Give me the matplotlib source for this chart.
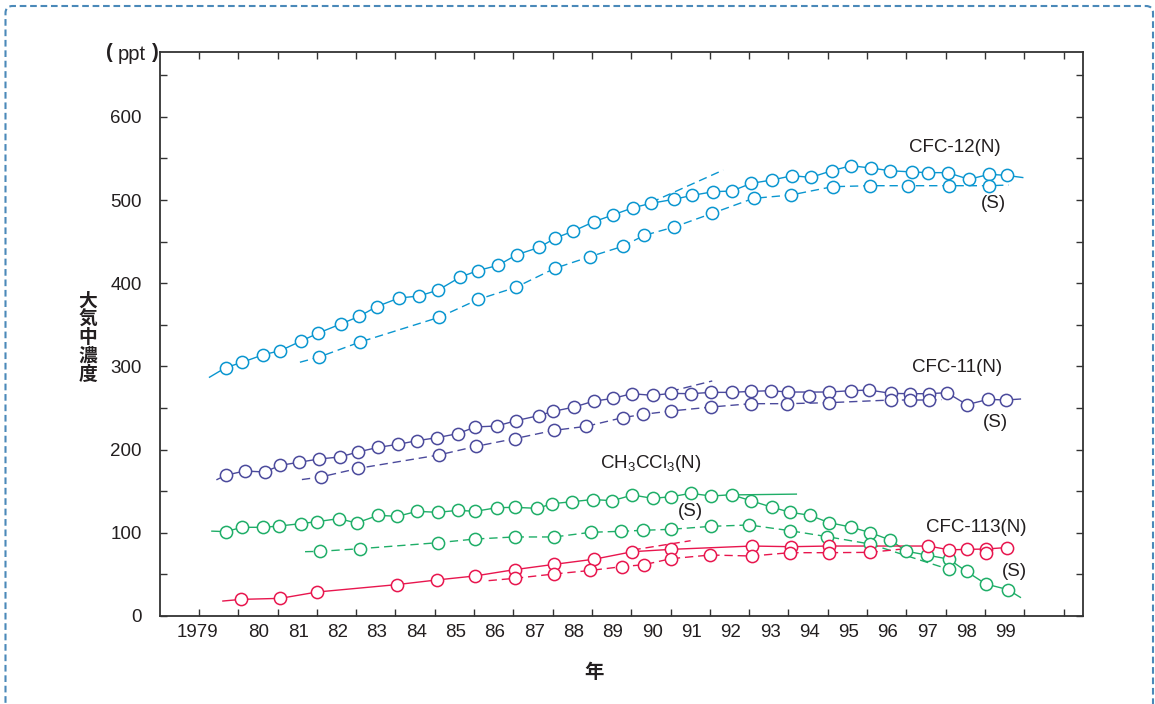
import matplotlib
matplotlib.use("Agg")
import matplotlib.pyplot as plt
from matplotlib.patches import FancyBboxPatch
from matplotlib.transforms import IdentityTransform
from matplotlib.ticker import FixedLocator, NullFormatter

plt.rcParams['font.family'] = ['Liberation Sans', 'Noto Sans CJK JP', 'DejaVu Sans']
plt.rcParams['mathtext.default'] = 'regular'

W, H = 1155, 704
TXT = '#231f20'
C12 = '#0a96d0'
C11 = '#4b4a9c'
CCH = '#1fae68'
C113 = '#e8164e'

# ---------------- data (year, ppt) ----------------
cfc12_n_yr = [1979.68, 1980.10, 1980.64, 1981.07, 1981.60, 1982.04, 1982.61, 1983.08, 1983.52, 1984.09,
              1984.60, 1985.09, 1985.64, 1986.09, 1986.61, 1987.09, 1987.66, 1988.07, 1988.53, 1989.05,
              1989.53, 1990.05, 1990.50, 1991.08, 1991.54, 1992.09, 1992.56, 1993.05, 1993.57, 1994.10,
              1994.57, 1995.10, 1995.59, 1996.09, 1996.58, 1997.15, 1997.55, 1998.05, 1998.59, 1999.11,
              1999.55]
cfc12_n_val = [298.5, 304.9, 314.1, 318.9, 330.5, 340.1, 351.0, 360.2, 371.8, 382.2,
               384.6, 391.8, 407.1, 415.1, 421.5, 434.3, 443.1, 454.3, 462.7, 473.9,
               482.0, 490.8, 496.0, 500.8, 505.5, 510.0, 510.8, 520.0, 524.0, 529.2,
               527.2, 535.2, 541.2, 538.5, 535.2, 533.7, 532.9, 532.9, 524.9, 530.9,
               529.6]
cfc12_n_start, cfc12_n_end = (1979.27, 287.0), (1999.96, 527.0)

cfc12_s_yr = [1982.06, 1983.10, 1985.11, 1986.11, 1987.06, 1988.05, 1988.95, 1989.78, 1990.33, 1991.09,
              1992.06, 1993.11, 1994.06, 1995.12, 1996.08, 1997.03, 1998.09, 1999.11]
cfc12_s_val = [311.3, 329.3, 359.0, 380.6, 395.0, 417.8, 431.9, 444.3, 457.5, 467.5,
               484.0, 502.0, 506.0, 516.0, 517.2, 517.2, 517.2, 517.2]
cfc12_s_start, cfc12_s_end = (1981.57, 305.0), (1999.60, 518.0)
cfc12_trend_yr = [1990.5, 1992.34]
cfc12_trend_val = [497.0, 536.0]

cfc11_n_yr = [1979.68, 1980.16, 1980.67, 1981.07, 1981.54, 1982.05, 1982.58, 1983.04, 1983.56, 1984.06,
              1984.55, 1985.05, 1985.59, 1986.03, 1986.58, 1987.07, 1987.64, 1988.02, 1988.55, 1989.04,
              1989.54, 1990.01, 1990.55, 1991.02, 1991.51, 1992.04, 1992.55, 1993.04, 1993.55, 1994.00,
              1995.03, 1995.58, 1996.06, 1996.60, 1997.10, 1997.57, 1998.03, 1998.54, 1999.08, 1999.53]
cfc11_n_val = [169.1, 174.3, 173.1, 181.1, 184.7, 188.7, 191.1, 197.1, 202.7, 206.3,
               210.7, 214.3, 219.2, 227.2, 228.4, 234.8, 240.8, 246.0, 251.2, 258.2,
               261.6, 267.2, 265.2, 267.6, 267.2, 268.8, 268.8, 270.0, 270.8, 269.2,
               269.2, 270.8, 271.6, 267.6, 267.2, 267.2, 268.4, 254.0, 260.4, 259.6]
cfc11_n_start, cfc11_n_end = (1979.46, 164.0), (1999.90, 260.8)

cfc11_s_yr = [1982.10, 1983.06, 1985.10, 1986.05, 1987.03, 1988.04, 1988.86, 1989.78, 1990.31, 1991.01,
              1992.04, 1993.04, 1993.96, 1995.03, 1996.60, 1997.10, 1997.57]
cfc11_s_val = [167.1, 177.5, 193.5, 203.9, 213.1, 223.2, 228.0, 238.4, 242.4, 246.4,
               251.2, 255.2, 255.2, 256.4, 259.6, 259.6, 259.6]
cfc11_s_start, cfc11_s_end = (1981.62, 164.0), (1997.90, 260.0)
cfc11_s_extra_yr = [1994.52]
cfc11_s_extra_val = [264.0]
cfc11_trend_yr = [1991.0, 1992.06]
cfc11_trend_val = [270.0, 282.5]

ch3_n_yr = [1979.68, 1980.10, 1980.64, 1981.05, 1981.59, 1982.00, 1982.56, 1983.01, 1983.56, 1984.05,
            1984.55, 1985.08, 1985.59, 1986.03, 1986.58, 1987.04, 1987.61, 1987.99, 1988.50, 1989.02,
            1989.52, 1990.03, 1990.55, 1991.02, 1991.51, 1992.04, 1992.55, 1993.04, 1993.59, 1994.05,
            1994.55, 1995.03, 1995.58, 1996.08, 1996.59, 1997.00, 1997.52, 1998.08, 1998.53, 1999.02,
            1999.58]
ch3_n_val = [101.4, 106.6, 106.6, 108.2, 111.0, 113.4, 117.0, 111.8, 121.0, 119.8,
             125.8, 124.6, 127.0, 125.8, 130.2, 130.6, 129.4, 135.0, 137.4, 140.0,
             138.6, 145.4, 141.4, 143.4, 147.4, 144.2, 145.8, 138.6, 130.6, 124.6,
             121.0, 112.2, 107.0, 100.2, 91.3, 77.8, 73.3, 68.3, 53.5, 38.5,
             31.7]
ch3_n_start, ch3_n_end = (1979.33, 102.0), (1999.90, 22.4)

ch3_s_yr = [1982.07, 1983.10, 1985.08, 1986.02, 1987.03, 1988.04, 1988.97, 1989.74, 1990.30, 1991.01,
            1992.04, 1993.00, 1994.03, 1994.98, 1996.08, 1998.08]
ch3_s_val = [77.7, 80.9, 88.1, 92.5, 95.0, 95.0, 100.6, 101.8, 103.0, 104.2,
             107.8, 109.4, 102.6, 95.4, 86.5, 56.1]
ch3_s_start, ch3_s_end = (1981.70, 77.3), (1998.30, 54.0)
ch3_trend_yr = [1992.5, 1994.2]
ch3_trend_val = [145.5, 146.5]

cfc113_n_yr = [1980.08, 1981.07, 1982.00, 1984.03, 1985.05, 1986.02, 1987.03, 1988.04, 1989.06, 1990.03,
               1991.01, 1993.07, 1994.06, 1995.03, 1997.56, 1998.09, 1998.54, 1999.03, 1999.55]
cfc113_n_val = [20.0, 21.2, 28.8, 37.7, 43.3, 48.1, 55.7, 62.1, 68.3, 77.3,
                80.1, 84.1, 83.3, 84.1, 84.1, 79.5, 80.1, 80.5, 82.3]
cfc113_n_start, cfc113_n_end = (1979.61, 18.0), (1999.55, 82.3)

cfc113_s_yr = [1987.04, 1988.04, 1988.95, 1989.76, 1990.33, 1991.01, 1992.01, 1993.07, 1994.03, 1995.03,
               1996.07]
cfc113_s_val = [45.3, 50.5, 54.7, 59.3, 61.7, 68.9, 73.3, 72.1, 76.1, 76.1,
                76.5]
cfc113_s_start, cfc113_s_end = (1986.37, 42.5), (1997.00, 81.0)
cfc113_s_extra_yr = [1999.03]
cfc113_s_extra_val = [75.3]
cfc113_trend_yr = [1990.03, 1991.51]
cfc113_trend_val = [79.3, 90.5]

year_ticks = list(range(1979, 2002))
year_labels = ['1979'] + ['%02d' % (y % 100) for y in range(1980, 2000)]
year_label_pos = [1978.95] + [y + 0.53 for y in range(1980, 2000)]
y_ticks = list(range(0, 651, 50))
ylabel_chars = ['大', '気', '中', '濃', '度']

# ---------------- figure ----------------
fig = plt.figure(figsize=(W / 100, H / 100), dpi=100)
fig.patch.set_facecolor('white')

def px2fig(x, y):
    return x / W, 1 - y / H

L, R, T, B = 160, 1082.5, 52, 616
ax = fig.add_axes([L / W, 1 - B / H, (R - L) / W, (B - T) / H])
ax.set_xlim(1978.01, 2001.48)
ax.set_ylim(0, 677.9)

for sp in ax.spines.values():
    sp.set_color('#333333')
    sp.set_linewidth(1.3)

ax.xaxis.set_major_locator(FixedLocator(year_ticks))
ax.xaxis.set_major_formatter(NullFormatter())
ax.set_xticks(year_label_pos, year_labels, minor=True)
ax.tick_params(axis='x', which='major', direction='in', length=5, width=1.0, color='#333333',
               top=True, bottom=True)
ax.tick_params(axis='x', which='minor', length=0, pad=6, labelsize=13.5, labelcolor=TXT)

ax.set_yticks(y_ticks)
ax.set_yticklabels([str(v) if v % 100 == 0 else '' for v in y_ticks])
ax.tick_params(axis='y', which='major', direction='in', length=5, width=1.0, color='#333333',
               left=True, right=True, pad=13, labelsize=13.5, labelcolor=TXT)

LW = 1.0
MS = 8.8
MEW = 1.1
DASH = (6, 3.5)

def draw_series(yr, val, start, end, color, dashed):
    lx = [start[0]] + list(yr) + [end[0]]
    ly = [start[1]] + list(val) + [end[1]]
    if dashed:
        ax.plot(lx, ly, color=color, lw=LW, dashes=DASH, zorder=2)
    else:
        ax.plot(lx, ly, color=color, lw=LW, zorder=2)

def draw_marks(yr, val, color):
    ax.plot(yr, val, 'o', ms=MS, mfc='white', mec=color, mew=MEW, ls='none', zorder=3)

series = [
    (cfc12_n_yr, cfc12_n_val, cfc12_n_start, cfc12_n_end, C12, False),
    (cfc12_s_yr, cfc12_s_val, cfc12_s_start, cfc12_s_end, C12, True),
    (cfc11_n_yr, cfc11_n_val, cfc11_n_start, cfc11_n_end, C11, False),
    (cfc11_s_yr, cfc11_s_val, cfc11_s_start, cfc11_s_end, C11, True),
    (ch3_n_yr, ch3_n_val, ch3_n_start, ch3_n_end, CCH, False),
    (ch3_s_yr, ch3_s_val, ch3_s_start, ch3_s_end, CCH, True),
    (cfc113_n_yr, cfc113_n_val, cfc113_n_start, cfc113_n_end, C113, False),
    (cfc113_s_yr, cfc113_s_val, cfc113_s_start, cfc113_s_end, C113, True),
]
for yr, val, st, en, col, dsh in series:
    draw_series(yr, val, st, en, col, dsh)

# trend segments
ax.plot(cfc12_trend_yr, cfc12_trend_val, color=C12, lw=LW, dashes=DASH, zorder=2)
ax.plot(cfc11_trend_yr, cfc11_trend_val, color=C11, lw=LW, dashes=DASH, zorder=2)
ax.plot(ch3_trend_yr, ch3_trend_val, color=CCH, lw=LW, zorder=2)
ax.plot(cfc113_trend_yr, cfc113_trend_val, color=C113, lw=LW, dashes=DASH, zorder=2)

for yr, val, st, en, col, dsh in series:
    draw_marks(yr, val, col)
draw_marks(cfc11_s_extra_yr, cfc11_s_extra_val, C11)
draw_marks(cfc113_s_extra_yr, cfc113_s_extra_val, C113)

# ---------------- annotations ----------------
def ftext(x, y, s, **kw):
    fx, fy = px2fig(x, y)
    kw.setdefault('color', TXT)
    kw.setdefault('fontsize', 13.5)
    fig.text(fx, fy, s, **kw)

ftext(954.5, 148, 'CFC-12(N)', ha='center', va='center')
ftext(993, 203, '(S)', ha='center', va='center')
ftext(957, 367, 'CFC-11(N)', ha='center', va='center')
ftext(995, 422, '(S)', ha='center', va='center')
ftext(651, 463, 'CH$_3$CCl$_3$(N)', ha='center', va='center')
ftext(690, 512, '(S)', ha='center', va='center')
ftext(976, 527, 'CFC-113(N)', ha='center', va='center')
ftext(1014.5, 571, '(S)', ha='center', va='center')

# unit label "（ppt）"
ftext(109, 53, '(', ha='center', va='center', fontsize=14.5, fontweight='bold')
ftext(132, 55, 'ppt', ha='center', va='center', fontsize=14.5)
ftext(155, 53, ')', ha='center', va='center', fontsize=14.5, fontweight='bold')

# vertical y-axis title, one character per line
for i, ch in enumerate(ylabel_chars):
    ftext(87.5, 301.5 + 18.2 * i, ch, ha='center', va='center',
          family=['Noto Sans CJK JP', 'DejaVu Sans'], fontsize=13.5, fontweight='bold')
ftext(594, 672, '年', ha='center', va='center', family=['Noto Sans CJK JP', 'DejaVu Sans'],
      fontsize=14, fontweight='bold')

# dashed rounded frame
frame = FancyBboxPatch((5.5, -20), 1147.5, H - 6 + 20,
                       boxstyle='round,pad=0,rounding_size=7', transform=IdentityTransform(),
                       fill=False, edgecolor='#4a89b9', lw=1.5, linestyle=(0, (3.2, 1.8)))
fig.patches.append(frame)

fig.savefig('out.png', dpi=100, facecolor='white')
